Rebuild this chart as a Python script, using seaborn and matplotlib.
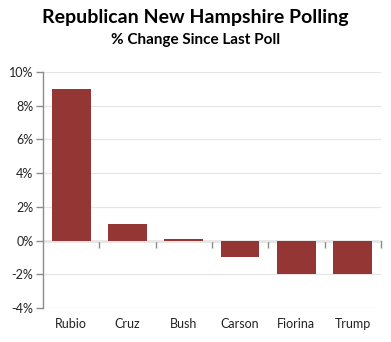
import matplotlib
matplotlib.use("Agg")
import matplotlib.pyplot as plt
import seaborn as sns
import pandas as pd
from matplotlib.ticker import FuncFormatter, FixedLocator

candidates = ["Rubio", "Cruz", "Bush", "Carson", "Fiorina", "Trump"]
change = [9.0, 1.0, 0.1, -1.0, -2.0, -2.0]
yticks = [-4, -2, 0, 2, 4, 6, 8, 10]

df = pd.DataFrame({"candidate": candidates, "change": change})

sns.set_style("white")
plt.rcParams["font.family"] = ["Lato", "DejaVu Sans"]

fig = plt.figure(figsize=(3.91, 3.42), dpi=100)
ax = fig.add_axes([0.110, 0.0994, 0.864, 0.690])

sns.barplot(data=df, x="candidate", y="change", color="#943634",
            saturation=1, width=0.69, ax=ax, zorder=3,
            edgecolor="none", linewidth=0)

ax.set_ylim(-4, 10)
ax.set_xlim(-0.5, len(candidates) - 0.5)
ax.set_yticks(yticks)
ax.yaxis.set_major_formatter(FuncFormatter(lambda v, p: f"{v:.0f}%"))
ax.grid(axis="y", color="#E6E6E6", lw=0.9, zorder=0)
ax.set_axisbelow(True)

for s in ["top", "right", "bottom"]:
    ax.spines[s].set_visible(False)
ax.spines["left"].set_color("#8C8C8C")
ax.spines["left"].set_linewidth(1.0)
ax.tick_params(axis="y", length=5, width=1.0, color="#8C8C8C", labelsize=9,
               labelcolor="#222222", pad=2, left=True)
ax.tick_params(axis="x", length=0, labelsize=9, labelcolor="#222222", pad=7)
ax.set_xlabel("")
ax.set_ylabel("")

zero_frac = (0 - (-4)) / 14
sec = ax.secondary_xaxis(zero_frac)
sec.spines["bottom"].set_color("#8C8C8C")
sec.spines["bottom"].set_linewidth(1.0)
sec.xaxis.set_major_locator(FixedLocator([i + 0.5 for i in range(len(candidates))]))
sec.tick_params(axis="x", length=5, width=1.0, color="#8C8C8C", labelbottom=False)
sec.spines["bottom"].set_zorder(5)

fig.text(0.5, 0.95, "Republican New Hampshire Polling", ha="center", va="center",
         fontsize=14, fontweight="bold", color="#000000")
fig.text(0.5, 0.883, "% Change Since Last Poll", ha="center", va="center",
         fontsize=11, fontweight="bold", color="#000000")

fig.savefig("out.png", dpi=100)
